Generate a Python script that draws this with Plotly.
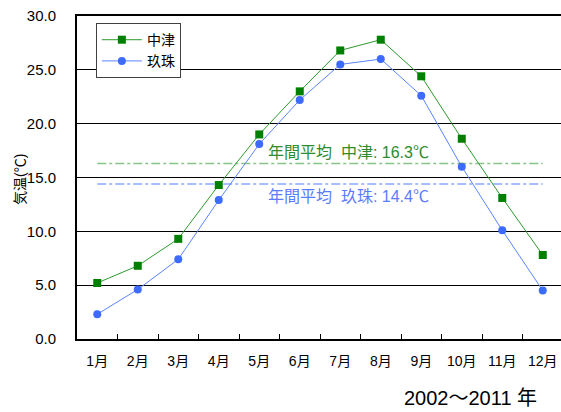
import plotly.graph_objects as go

months = ["1月", "2月", "3月", "4月", "5月", "6月", "7月", "8月", "9月", "10月", "11月", "12月"]
nakatsu = [5.2, 6.8, 9.3, 14.3, 19.0, 23.0, 26.8, 27.8, 24.4, 18.6, 13.1, 7.8]
kusu = [2.3, 4.6, 7.4, 12.9, 18.1, 22.2, 25.5, 26.0, 22.6, 16.0, 10.1, 4.5]
avg_nakatsu = 16.3
avg_kusu = 14.4

FONT = "Liberation Sans, Arial, Noto Sans CJK JP"
GREEN = "#008000"
BLUE = "#3d6bff"

fig = go.Figure()
fig.add_trace(go.Scatter(x=months, y=[avg_nakatsu] * len(months), mode="lines",
                         line=dict(color="#86c386", width=1.5, dash="dashdot"),
                         showlegend=False, hoverinfo="skip"))
fig.add_trace(go.Scatter(x=months, y=[avg_kusu] * len(months), mode="lines",
                         line=dict(color="#8aa8ff", width=1.5, dash="dashdot"),
                         showlegend=False, hoverinfo="skip"))
fig.add_trace(go.Scatter(x=months, y=nakatsu, mode="lines+markers", name="中津",
                         line=dict(color="#2e9a2e", width=1),
                         marker=dict(symbol="square", size=8, color=GREEN)))
fig.add_trace(go.Scatter(x=months, y=kusu, mode="lines+markers", name="玖珠",
                         line=dict(color="#5a85ff", width=1),
                         marker=dict(symbol="circle", size=8, color=BLUE)))

fig.update_layout(
    width=561, height=412,
    margin=dict(l=77, r=0, t=16, b=73, autoexpand=False),
    paper_bgcolor="white", plot_bgcolor="white",
    font=dict(family=FONT, size=14, color="black"),
    showlegend=True,
    legend=dict(x=0.039, y=0.978, xanchor="left", yanchor="top",
                bgcolor="white", bordercolor="#404040", borderwidth=1,
                font=dict(size=14, family=FONT), tracegroupgap=0, itemwidth=40),
    xaxis=dict(type="category", range=[-0.5, 11.45], automargin=False,
               showline=True, linecolor="black", linewidth=2, mirror=True,
               ticks="inside", ticklen=5, tickcolor="black", tickson="boundaries",
               showgrid=False, tickfont=dict(size=14), ticklabelstandoff=8),
    yaxis=dict(range=[0, 30], dtick=5, tickformat=".1f", automargin=False,
               showline=True, linecolor="black", linewidth=2,
               showgrid=True, gridcolor="black", gridwidth=1,
               zeroline=False, ticks="", tickfont=dict(size=15),
               ticklabelstandoff=16),
    annotations=[
        dict(text="気温(℃)", xref="paper", yref="paper",
             x=(20 - 77) / 484, y=(339 - 180) / 323, textangle=-90,
             xanchor="center", yanchor="middle",
             showarrow=False, font=dict(size=14)),
        dict(text=f"年間平均  中津: {avg_nakatsu:.1f}℃", xref="paper", yref="y",
             x=(348 - 77) / 484, y=17.3, xanchor="center", yanchor="middle",
             showarrow=False, font=dict(size=16, color="#2e8b2e")),
        dict(text=f"年間平均  玖珠: {avg_kusu:.1f}℃", xref="paper", yref="y",
             x=(348 - 77) / 484, y=13.2, xanchor="center", yanchor="middle",
             showarrow=False, font=dict(size=16, color="#5a7cff")),
        dict(text="2002〜2011 年", xref="paper", yref="paper",
             x=(470 - 77) / 484, y=(339 - 398) / 323,
             xanchor="center", yanchor="middle",
             showarrow=False, font=dict(size=20)),
    ],
)

fig.write_html("out.html", config={"displayModeBar": False},
               post_script="document.body.style.margin='0';")
